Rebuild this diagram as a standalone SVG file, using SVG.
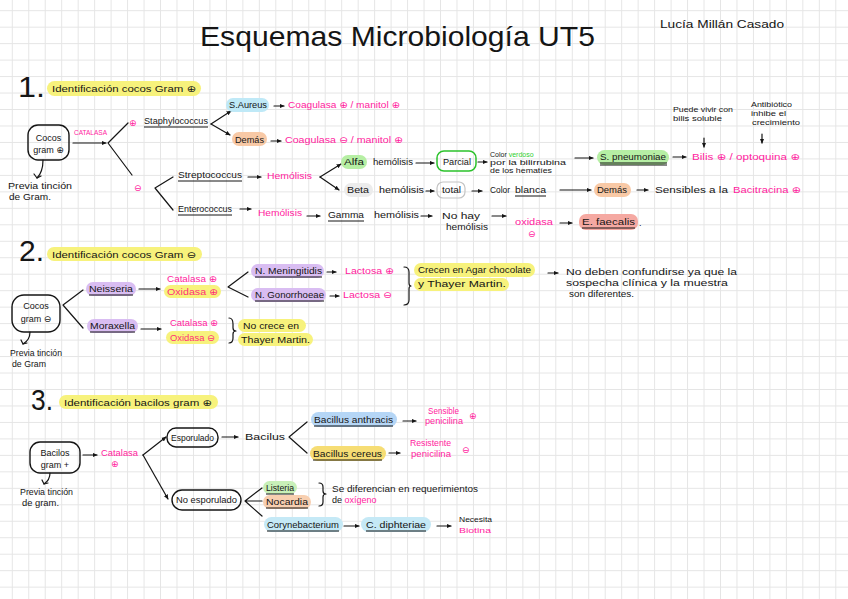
<svg xmlns="http://www.w3.org/2000/svg" width="848" height="599" viewBox="0 0 848 599">
<style>
text{font-family:"Liberation Sans","DejaVu Sans",Arial,sans-serif;font-size:9px;fill:#151515;lengthAdjust:spacingAndGlyphs}
.s{font-size:7px}
.p{fill:#ff1c9e}
.r{fill:#ff2f78}
.g{fill:#2fcf2f}
.big{font-size:30px}
.box{fill:none;stroke:#151515;stroke-width:1.4}
.ln{fill:none;stroke:#151515;stroke-width:1.2;stroke-linecap:round;stroke-linejoin:round}
.ar{fill:none;stroke:#151515;stroke-width:1.2;stroke-linecap:round;marker-end:url(#ah)}
.ul{stroke:#151515;stroke-width:1}
.y{fill:#f7f27c}
.bl{fill:#bfe9f7}
.or{fill:#f8c9a6}
.gr{fill:#b6efa4}
.pu{fill:#d9bdf2}
.sa{fill:#f5a9a2}
.gy{fill:#ececec}
.db{fill:#b5d6f6}
.yo{fill:#f6dd74}
</style>
<defs>
<pattern id="grid" width="16.47" height="16.47" patternUnits="userSpaceOnUse" x="11.8" y="10.2">
<path d="M0 0.5H16.47M0.5 0V16.47" stroke="#e5e5e5" stroke-width="1" fill="none"/>
</pattern>
<marker id="ah" viewBox="0 0 8 8" refX="7" refY="4" markerWidth="5" markerHeight="5" markerUnits="userSpaceOnUse" orient="auto">
<path d="M0 0.5L8 4L0 7.5Z" fill="#151515"/>
</marker>
</defs>
<rect width="848" height="599" fill="#ffffff"/>
<rect width="848" height="599" fill="url(#grid)"/>

<g id="title">
<text x="200" y="46" style="font-size:28px" textLength="395" lengthAdjust="spacingAndGlyphs">Esquemas Microbiología UT5</text>
<text x="660" y="28" style="font-size:11px" textLength="124" lengthAdjust="spacingAndGlyphs">Lucía Millán Casado</text>
</g>

<g id="connectors">
<!-- section 1 -->
<path class="ln" d="M43 160Q43 172 37 178"/>
<path class="ln" d="M34 174L37 178L41 176"/>
<path class="ar" d="M73 143H106"/>
<path class="ln" d="M128 123L108 143L132 175"/>
<path class="ar" d="M211 124L231 111"/>
<path class="ar" d="M211 124L230 135"/>
<path class="ar" d="M274 106H284"/>
<path class="ar" d="M271 141H281"/>
<path class="ln" d="M173 177L155 188L173 210"/>
<path class="ar" d="M248 177H261"/>
<path class="ar" d="M240 209H251"/>
<path class="ar" d="M320 177L341 164"/>
<path class="ar" d="M320 177L339 190"/>
<path class="ar" d="M416 163H434"/>
<path class="ar" d="M478 162H487"/>
<path class="ar" d="M426 191H434"/>
<path class="ar" d="M472 191H482"/>
<path class="ar" d="M560 190H591"/>
<path class="ar" d="M637 190H648"/>
<path class="ar" d="M575 158H593"/>
<path class="ar" d="M673 157H686"/>
<path class="ar" d="M704 138V147"/>
<path class="ar" d="M762 134V143"/>
<path class="ar" d="M307 216H320"/>
<path class="ar" d="M421 216H432"/>
<path class="ar" d="M492 216H506"/>
<path class="ar" d="M560 223H572"/>
<!-- section 2 -->
<path class="ln" d="M30 332Q30 340 23 344"/>
<path class="ln" d="M21 340L23 344L27 343"/>
<path class="ln" d="M83 290L63 305L83 328"/>
<path class="ar" d="M139 289H160"/>
<path class="ar" d="M141 329H161"/>
<path class="ln" d="M229 318Q233 318 233 324V328Q233 331 236 331Q233 331 233 334V338Q233 343 229 343"/>
<path class="ln" d="M248 272L228 287L248 297"/>
<path class="ar" d="M327 272H336"/>
<path class="ar" d="M330 296H339"/>
<path class="ln" d="M404 267Q409 267 409 272V283Q409 286 411 286Q409 286 409 289V300Q409 305 404 305"/>
<path class="ar" d="M548 273H558"/>
<!-- section 3 -->
<path class="ln" d="M50 473Q50 480 44 484"/>
<path class="ln" d="M42 480L44 484L48 483"/>
<path class="ar" d="M83 455H97"/>
<path class="ar" d="M143 455L166 437"/>
<path class="ar" d="M143 455L168 499"/>
<path class="ar" d="M222 437H238"/>
<path class="ln" d="M307 422L289 437L307 453"/>
<path class="ar" d="M403 421H416"/>
<path class="ar" d="M389 453H400"/>
<path class="ln" d="M262 488L245 501L262 516M245 501H262"/>
<path class="ln" d="M319 483Q323 483 323 487V491Q323 494 326 494Q323 494 323 497V502Q323 506 319 506"/>
<path class="ar" d="M344 526H359"/>
<path class="ar" d="M437 526H451"/>
</g>

<!-- ========== SECTION 1 ========== -->
<g id="s1-head">
<text class="big" x="18" y="97" textLength="27" lengthAdjust="spacingAndGlyphs">1.</text>
<rect class="y" x="47" y="81" width="154" height="15" rx="7.5"/>
<text x="52" y="92" textLength="144" lengthAdjust="spacingAndGlyphs">Identificación cocos Gram ⊕</text>
</g>
<g id="n-cocos-pos">
<rect class="box" x="28" y="125" width="41" height="35" rx="10"/>
<text x="48.5" y="141" text-anchor="middle">Cocos</text>
<text x="48.5" y="153" text-anchor="middle">gram ⊕</text>
</g>
<g id="n-previa1">
<text x="8" y="189" textLength="64" lengthAdjust="spacingAndGlyphs">Previa tinción</text>
<text x="9" y="200" textLength="42" lengthAdjust="spacingAndGlyphs">de Gram.</text>
</g>
<g id="n-catalasa1">
<text class="p s" x="74" y="135" textLength="33" lengthAdjust="spacingAndGlyphs">CATALASA</text>
<text class="p" x="129" y="126">⊕</text>
<text class="p" x="134" y="191">⊖</text>
</g>
<g id="n-staph">
<text x="144" y="124" textLength="64" lengthAdjust="spacingAndGlyphs">Staphylococcus</text>
<path class="ul" d="M144 127H208"/>
</g>
<g id="n-saureus">
<rect class="bl" x="226" y="98" width="43" height="14" rx="7"/>
<text x="229" y="108" textLength="38" lengthAdjust="spacingAndGlyphs">S.Aureus</text>
<text class="p" x="288" y="108" textLength="112" lengthAdjust="spacingAndGlyphs">Coagulasa ⊕ / manitol ⊕</text>
</g>
<g id="n-demas1">
<rect class="or" x="232" y="132" width="35" height="14" rx="7"/>
<text x="235" y="143" textLength="29" lengthAdjust="spacingAndGlyphs">Demás</text>
<text class="p" x="285" y="143" textLength="118" lengthAdjust="spacingAndGlyphs">Coagulasa ⊖ / manitol ⊕</text>
</g>
<g id="n-strep">
<text x="178" y="178" textLength="64" lengthAdjust="spacingAndGlyphs">Streptococcus</text>
<path class="ul" d="M178 181H242"/>
<text class="p" x="267" y="179" textLength="45" lengthAdjust="spacingAndGlyphs">Hemólisis</text>
</g>
<g id="n-entero">
<text x="178" y="212" textLength="54" lengthAdjust="spacingAndGlyphs">Enterococcus</text>
<path class="ul" d="M178 215H232"/>
<text class="p" x="258" y="216" textLength="44" lengthAdjust="spacingAndGlyphs">Hemólisis</text>
</g>
<g id="n-alfa">
<rect class="gr" x="341" y="155" width="26" height="14" rx="7"/>
<text x="344" y="165" textLength="20" lengthAdjust="spacingAndGlyphs">Alfa</text>
<text x="373" y="165" textLength="40" lengthAdjust="spacingAndGlyphs">hemólisis</text>
</g>
<g id="n-parcial">
<rect x="437" y="151" width="39" height="20" rx="7" fill="none" stroke="#2bc22b" stroke-width="1.5"/>
<text x="443" y="165" textLength="28" lengthAdjust="spacingAndGlyphs">Parcial</text>
</g>
<g id="n-verdoso">
<text class="s" x="490" y="157">Color <tspan class="g">verdoso</tspan></text>
<text class="s" x="490" y="165" textLength="76" lengthAdjust="spacingAndGlyphs">por la bilirrubina</text>
<text class="s" x="490" y="173" textLength="62" lengthAdjust="spacingAndGlyphs">de los hematíes</text>
</g>
<g id="n-beta">
<rect class="gy" x="344" y="183" width="29" height="14" rx="7"/>
<text x="347" y="193" textLength="22" lengthAdjust="spacingAndGlyphs">Beta</text>
<text x="379" y="193" textLength="45" lengthAdjust="spacingAndGlyphs">hemólisis</text>
</g>
<g id="n-total">
<rect x="437" y="182" width="28" height="16" rx="6" fill="none" stroke="#c4c4c4" stroke-width="1.2"/>
<text x="442" y="193" textLength="19" lengthAdjust="spacingAndGlyphs">total</text>
</g>
<g id="n-blanca">
<text x="490" y="193" textLength="20" lengthAdjust="spacingAndGlyphs">Color</text>
<text x="515" y="193" textLength="31" lengthAdjust="spacingAndGlyphs">blanca</text>
<path class="ul" d="M515 196H546"/>
</g>
<g id="n-pneumo">
<rect class="gr" x="597" y="150" width="72" height="15" rx="7.5"/>
<text x="600" y="160" textLength="66" lengthAdjust="spacingAndGlyphs">S. pneumoniae</text>
<path class="ul" d="M600 163H667M600 165H667"/>
<text class="p" x="692" y="160" textLength="108" lengthAdjust="spacingAndGlyphs">Bilis ⊕ / optoquina ⊕</text>
</g>
<g id="n-note-bilis">
<text class="s" x="673" y="112" textLength="60" lengthAdjust="spacingAndGlyphs">Puede vivir con</text>
<text class="s" x="673" y="121" textLength="49" lengthAdjust="spacingAndGlyphs">bilis soluble</text>
</g>
<g id="n-note-antib">
<text class="s" x="751" y="107" textLength="41" lengthAdjust="spacingAndGlyphs">Antibiótico</text>
<text class="s" x="751" y="116" textLength="35" lengthAdjust="spacingAndGlyphs">inhibe el</text>
<text class="s" x="752" y="125" textLength="48" lengthAdjust="spacingAndGlyphs">crecimiento</text>
</g>
<g id="n-demas2">
<rect class="or" x="594" y="183" width="37" height="14" rx="7"/>
<text x="597" y="193" textLength="30" lengthAdjust="spacingAndGlyphs">Demás</text>
<text x="655" y="193" textLength="73" lengthAdjust="spacingAndGlyphs">Sensibles a la</text>
<text class="p" x="733" y="193" textLength="68" lengthAdjust="spacingAndGlyphs">Bacitracina ⊕</text>
</g>
<g id="n-gamma">
<text x="328" y="218" textLength="36" lengthAdjust="spacingAndGlyphs">Gamma</text>
<path class="ul" d="M328 221H364"/>
<text x="374" y="218" textLength="45" lengthAdjust="spacingAndGlyphs">hemólisis</text>
<text x="442" y="219" textLength="38" lengthAdjust="spacingAndGlyphs">No hay</text>
<text x="446" y="230" textLength="42" lengthAdjust="spacingAndGlyphs">hemólisis</text>
</g>
<g id="n-oxidasa1">
<text class="p" x="515" y="225" textLength="38" lengthAdjust="spacingAndGlyphs">oxidasa</text>
<text class="p" x="528" y="237">⊖</text>
</g>
<g id="n-faecalis">
<rect class="sa" x="579" y="214" width="59" height="16" rx="7"/>
<text x="582" y="225" textLength="53" lengthAdjust="spacingAndGlyphs">E. faecalis</text>
<path class="ul" d="M582 228H635"/>
<text x="639" y="226">.</text>
</g>

<!-- ========== SECTION 2 ========== -->
<g id="s2-head">
<text class="big" x="19" y="261" textLength="25" lengthAdjust="spacingAndGlyphs">2.</text>
<rect class="y" x="47" y="247" width="155" height="14" rx="7"/>
<text x="52" y="258" textLength="144" lengthAdjust="spacingAndGlyphs">Identificación cocos Gram ⊖</text>
</g>
<g id="n-cocos-neg">
<rect class="box" x="12" y="295" width="48" height="37" rx="12"/>
<text x="36" y="309" text-anchor="middle">Cocos</text>
<text x="36" y="322" text-anchor="middle">gram ⊖</text>
</g>
<g id="n-previa2">
<text x="10" y="356" textLength="52" lengthAdjust="spacingAndGlyphs">Previa tinción</text>
<text x="12" y="367" textLength="34" lengthAdjust="spacingAndGlyphs">de Gram</text>
</g>
<g id="n-neisseria">
<rect class="pu" x="86" y="282" width="50" height="14" rx="7"/>
<text x="89" y="292" textLength="44" lengthAdjust="spacingAndGlyphs">Neisseria</text>
<path class="ul" d="M89 295H133"/>
</g>
<g id="n-neis-tests">
<text class="p" x="167" y="282" textLength="50" lengthAdjust="spacingAndGlyphs">Catalasa ⊕</text>
<rect class="y" x="164" y="285" width="57" height="13" rx="6.5"/>
<text class="r" x="167" y="295" textLength="51" lengthAdjust="spacingAndGlyphs">Oxidasa ⊕</text>
</g>
<g id="n-moraxella">
<rect class="pu" x="87" y="319" width="51" height="14" rx="7"/>
<text x="90" y="329" textLength="45" lengthAdjust="spacingAndGlyphs">Moraxella</text>
<path class="ul" d="M90 332H135"/>
</g>
<g id="n-mor-tests">
<text class="p" x="170" y="326" textLength="48" lengthAdjust="spacingAndGlyphs">Catalasa ⊕</text>
<rect class="y" x="166" y="331" width="53" height="13" rx="6.5"/>
<text class="r" x="170" y="341" textLength="45" lengthAdjust="spacingAndGlyphs">Oxidasa ⊖</text>
</g>
<g id="n-nocrece">
<rect class="y" x="238" y="319" width="68" height="13" rx="6.5"/>
<rect class="y" x="238" y="333" width="75" height="13" rx="6.5"/>
<text x="243" y="329" textLength="56" lengthAdjust="spacingAndGlyphs">No crece en</text>
<text x="241" y="343" textLength="69" lengthAdjust="spacingAndGlyphs">Thayer Martin.</text>
</g>
<g id="n-mening">
<rect class="pu" x="251" y="264" width="73" height="14" rx="7"/>
<text x="255" y="274" textLength="67" lengthAdjust="spacingAndGlyphs">N. Meningitidis</text>
<path class="ul" d="M255 277H322"/>
<text class="p" x="345" y="274" textLength="49" lengthAdjust="spacingAndGlyphs">Lactosa ⊕</text>
</g>
<g id="n-gonor">
<rect class="pu" x="251" y="288" width="75" height="14" rx="7"/>
<text x="255" y="298" textLength="69" lengthAdjust="spacingAndGlyphs">N. Gonorrhoeae</text>
<path class="ul" d="M255 301H324"/>
<text class="p" x="343" y="298" textLength="49" lengthAdjust="spacingAndGlyphs">Lactosa ⊖</text>
</g>
<g id="n-agar">
<rect class="y" x="414" y="263" width="121" height="14" rx="7"/>
<rect class="y" x="414" y="278" width="95" height="13" rx="6.5"/>
<text x="418" y="273" textLength="113" lengthAdjust="spacingAndGlyphs">Crecen en Agar chocolate</text>
<text x="418" y="287" textLength="88" lengthAdjust="spacingAndGlyphs">y Thayer Martin.</text>
</g>
<g id="n-confundir">
<text x="566" y="275" textLength="171" lengthAdjust="spacingAndGlyphs">No deben confundirse ya que la</text>
<text x="566" y="286" textLength="162" lengthAdjust="spacingAndGlyphs">sospecha clínica y la muestra</text>
<text x="569" y="297" textLength="65" lengthAdjust="spacingAndGlyphs">son diferentes.</text>
</g>

<!-- ========== SECTION 3 ========== -->
<g id="s3-head">
<text class="big" x="31" y="410" textLength="22" lengthAdjust="spacingAndGlyphs">3.</text>
<rect class="y" x="59" y="395" width="159" height="14" rx="7"/>
<text x="64" y="406" textLength="148" lengthAdjust="spacingAndGlyphs">Identificación bacilos gram ⊕</text>
</g>
<g id="n-bacilos">
<rect class="box" x="30" y="442" width="50" height="31" rx="10"/>
<text x="55" y="456" text-anchor="middle">Bacilos</text>
<text x="55" y="468" text-anchor="middle">gram +</text>
</g>
<g id="n-previa3">
<text x="20" y="495" textLength="53" lengthAdjust="spacingAndGlyphs">Previa tinción</text>
<text x="22" y="506" textLength="37" lengthAdjust="spacingAndGlyphs">de gram.</text>
</g>
<g id="n-catalasa3">
<text class="p" x="101" y="456" textLength="37" lengthAdjust="spacingAndGlyphs">Catalasa</text>
<text class="p" x="111" y="467">⊕</text>
</g>
<g id="n-esporulado">
<rect class="box" x="167" y="428" width="51" height="19" rx="9"/>
<text x="171" y="441" textLength="43" lengthAdjust="spacingAndGlyphs">Esporulado</text>
</g>
<g id="n-bacilus">
<text x="245" y="440" textLength="40" lengthAdjust="spacingAndGlyphs">Bacilus</text>
</g>
<g id="n-noesporulado">
<rect class="box" x="172" y="490" width="69" height="20" rx="10"/>
<text x="176" y="503" textLength="61" lengthAdjust="spacingAndGlyphs">No esporulado</text>
</g>
<g id="n-anthracis">
<rect class="db" x="311" y="412" width="86" height="15" rx="7.5"/>
<text x="314" y="423" textLength="79" lengthAdjust="spacingAndGlyphs">Bacillus anthracis</text>
<path class="ul" d="M314 426H393"/>
<text class="p" x="428" y="414" textLength="31" lengthAdjust="spacingAndGlyphs">Sensible</text>
<text class="p" x="425" y="424" textLength="38" lengthAdjust="spacingAndGlyphs">penicilina</text>
<text class="p" x="469" y="419">⊕</text>
</g>
<g id="n-cereus">
<rect class="yo" x="310" y="446" width="76" height="15" rx="7.5"/>
<text x="313" y="457" textLength="69" lengthAdjust="spacingAndGlyphs">Bacillus cereus</text>
<path class="ul" d="M313 460H382"/>
<text class="p" x="410" y="446" textLength="41" lengthAdjust="spacingAndGlyphs">Resistente</text>
<text class="p" x="411" y="457" textLength="40" lengthAdjust="spacingAndGlyphs">penicilina</text>
<text class="p" x="462" y="453">⊖</text>
</g>
<g id="n-listeria">
<rect fill="#c8f0b8" x="263" y="481" width="34" height="13" rx="6.5"/>
<text x="266" y="491" textLength="28" lengthAdjust="spacingAndGlyphs">Listeria</text>
<path class="ul" d="M266 494H294"/>
</g>
<g id="n-nocardia">
<rect fill="#f8cfb0" x="263" y="495" width="48" height="14" rx="7"/>
<text x="266" y="505" textLength="42" lengthAdjust="spacingAndGlyphs">Nocardia</text>
<path class="ul" d="M266 508H308"/>
</g>
<g id="n-oxigeno">
<text x="332" y="492" textLength="146" lengthAdjust="spacingAndGlyphs">Se diferencian en requerimientos</text>
<text x="332" y="503">de <tspan class="p">oxígeno</tspan></text>
</g>
<g id="n-coryne">
<rect fill="#c5e9f6" x="264" y="517" width="79" height="15" rx="7.5"/>
<text x="267" y="528" textLength="72" lengthAdjust="spacingAndGlyphs">Corynebacterium</text>
<path class="ul" d="M267 531H339"/>
</g>
<g id="n-diphteriae">
<rect fill="#c5e9f6" x="361" y="517" width="70" height="15" rx="7.5"/>
<text x="366" y="528" textLength="60" lengthAdjust="spacingAndGlyphs">C. diphteriae</text>
<path class="ul" d="M366 531H426"/>
</g>
<g id="n-biotina">
<text class="s" x="459" y="522" textLength="33" lengthAdjust="spacingAndGlyphs">Necesita</text>
<text class="p s" x="459" y="533" textLength="32" lengthAdjust="spacingAndGlyphs">Biotina</text>
</g>
</svg>
